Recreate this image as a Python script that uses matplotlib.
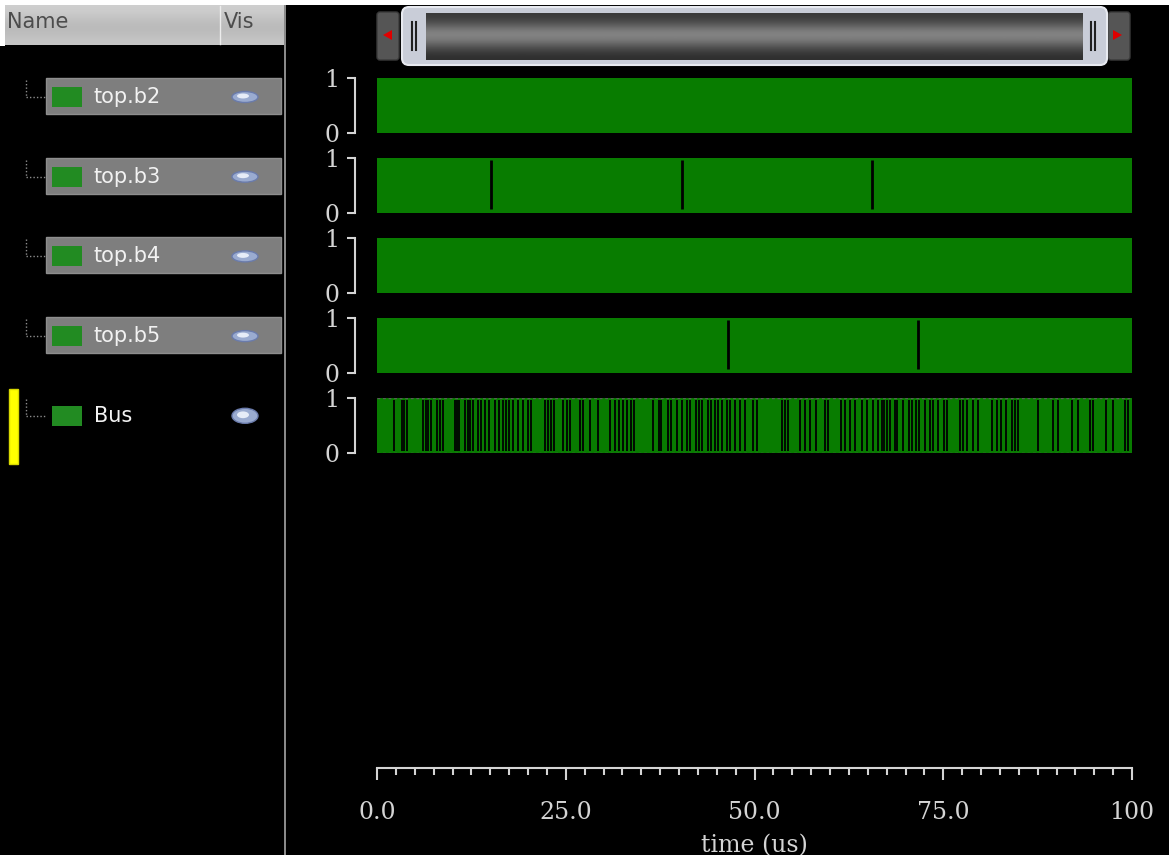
import numpy as np
import matplotlib
matplotlib.use('Agg')
from matplotlib import pyplot as plt
from matplotlib.patches import Rectangle, FancyBboxPatch, Ellipse, Polygon
from matplotlib.ticker import MultipleLocator

W, H = 1169, 855

# signals shown in the wave window
signal_names = ['top.b2', 'top.b3', 'top.b4', 'top.b5', 'Bus']
t_start, t_end = 0.0, 100.0

# times (us) where the dense green trace shows a visible black edge
b3_edges = [15.1, 40.4, 65.6]
b5_edges = [46.5, 71.7]
bus_edges = [2.2, 3.3, 3.6, 4.0, 6.1, 6.5, 6.8, 7.2, 7.9, 8.4, 8.7, 10.3, 10.6,
             10.9, 11.7, 12.0, 12.3, 12.7, 13.4, 13.8, 14.3, 14.8, 15.6, 16.1,
             16.7, 17.1, 17.5, 18.0, 18.7, 19.4, 20.0, 20.4, 22.3, 22.6, 23.1,
             23.4, 24.7, 25.1, 25.6, 26.9, 27.3, 28.2, 29.3, 30.9, 31.5, 32.0,
             32.6, 33.1, 33.6, 34.0, 36.6, 37.3, 37.6, 38.6, 39.0, 39.7, 40.4,
             41.0, 41.5, 42.3, 42.6, 43.1, 43.9, 44.3, 44.8, 45.2, 45.7, 46.3,
             46.8, 47.4, 48.1, 48.7, 49.8, 50.3, 53.6, 54.0, 54.5, 56.0, 56.7,
             57.3, 58.2, 59.3, 59.8, 61.5, 62.0, 62.6, 63.3, 64.2, 64.9, 65.7,
             66.4, 66.9, 67.1, 67.6, 67.9, 68.6, 68.9, 69.7, 70.5, 70.8, 71.4,
             71.8, 72.6, 73.2, 73.6, 74.3, 75.1, 75.5, 77.2, 77.6, 78.1, 79.0,
             79.6, 81.4, 82.1, 82.6, 83.3, 84.1, 84.5, 84.9, 87.6, 89.6, 90.2,
             92.0, 92.9, 94.4, 94.9, 96.6, 97.5, 99.1, 99.5]
signal_edges = [[], b3_edges, [], b5_edges, bus_edges]

level_ticks = [0, 1]
level_labels = ['0', '1']
time_ticks = [0, 25, 50, 75, 100]
time_labels = ['0.0', '25.0', '50.0', '75.0', '100']
time_minor_step = 2.5

WAVE_GREEN = '#087c00'
ICON_GREEN = '#228b22'
AXIS_GREY = '#d4d4d4'
PT = 72 / 100  # points per pixel at dpi 100


def px_axes(fig, x0, y0, w, h):
    # axes placed by pixel box measured from the top-left corner
    return fig.add_axes([x0 / W, 1 - (y0 + h) / H, w / W, h / H])


def gradient(ax, x0, x1, y0, y1, colors):
    vals = np.array([matplotlib.colors.to_rgb(c) for c in colors])
    return ax.imshow(vals[:, None, :], extent=[x0, x1, y1, y0],
                     aspect='auto', interpolation='bicubic', zorder=1)


fig = plt.figure(figsize=(W / 100, H / 100), dpi=100, facecolor='black')
bg = fig.add_axes([0, 0, 1, 1])
bg.set_xlim(0, W)
bg.set_ylim(H, 0)
bg.axis('off')
bg.set_facecolor('black')

# window frame
bg.add_patch(Rectangle((0, 0), W, 5, fc='white', ec='none', zorder=0))
bg.add_patch(Rectangle((0, 0), 5, 46, fc='white', ec='none', zorder=0))
bg.add_patch(Rectangle((284, 5), 2, H, fc='#8a8a8a', ec='none', zorder=2))

# name panel header
gradient(bg, 5, 284, 5, 45, ['#cfcfcf', '#c0c0c0', '#b8b8b8', '#c6c6c6'])
bg.plot([220, 220], [6, 44], color='#ececec', lw=1, zorder=3)
bg.text(7, 22, 'Name', color='#4c4c4c', fontsize=15, va='center',
        family='DejaVu Sans', zorder=4)
bg.text(224, 22, 'Vis', color='#4c4c4c', fontsize=15, va='center',
        family='DejaVu Sans', zorder=4)

# name panel rows
for i, name in enumerate(signal_names):
    cy = 97 + 79.7 * i
    bg.plot([26, 26], [cy - 17, cy], color='#8c8c8c', lw=1, ls=(0, (1, 1.5)))
    bg.plot([26, 46], [cy, cy], color='#8c8c8c', lw=1, ls=(0, (1, 1.5)))
    if name != 'Bus':
        bg.add_patch(Rectangle((46, cy - 19), 235, 36, fc='#7e7e7e',
                               ec='#8e8e8e', lw=1, zorder=1))
        eye_h = 11
    else:
        bg.add_patch(Rectangle((9, cy - 27), 9, 75, fc='#ffff00',
                               ec='#d8d800', lw=1, zorder=1))
        eye_h = 15
    bg.add_patch(Rectangle((52, cy - 10), 30, 20, fc=ICON_GREEN, ec='none',
                           zorder=2))
    bg.text(94, cy, name, color='#f2f2f2', fontsize=15, va='center',
            family='DejaVu Sans', zorder=3)
    bg.add_patch(Ellipse((245, cy), 26, eye_h, fc='#9aabd0', ec='#6a7bab',
                         lw=1, zorder=2))
    bg.add_patch(Ellipse((243, cy - 1), 12, eye_h * 0.45, fc='#e6ecf8',
                         ec='none', zorder=3))

# scroll bar
for x0 in (377, 1108):
    bg.add_patch(FancyBboxPatch((x0, 12), 22, 48,
                                boxstyle='round,pad=0,rounding_size=3',
                                fc='#555555', ec='#3a3a3a', lw=1, zorder=2))
bg.add_patch(Polygon([[383, 35], [392, 30], [392, 40]], fc='#e00000',
                     ec='none', zorder=3))
bg.add_patch(Polygon([[1122, 35], [1113, 30], [1113, 40]], fc='#e00000',
                     ec='none', zorder=3))
bg.add_patch(FancyBboxPatch((402, 7), 705, 58,
                            boxstyle='round,pad=0,rounding_size=7',
                            fc='#c9cdd8', ec='#e8eaf0', lw=1.5, zorder=3))
thumb = gradient(bg, 426, 1083, 13, 60, ['#3a3a3a', '#5a5a5a', '#8a8a8a',
                                         '#7a7a7a', '#4a4a4a', '#2e2e2e'])
thumb.set_zorder(4)
for gx in (412, 416, 1091, 1095):
    bg.plot([gx, gx], [22, 50], color='#202020', lw=1.5, zorder=5)

# waveforms
for i, name in enumerate(signal_names):
    ax = px_axes(fig, 377, 78 + 80 * i, 755, 55)
    ax.set_facecolor('black')
    ax.set_xlim(t_start, t_end)
    ax.set_ylim(0, 1)
    ax.fill_between([t_start, t_end], 0, 1, color=WAVE_GREEN, lw=0)
    if name == 'Bus':
        ax.vlines(signal_edges[i], 0.03, 0.97, colors='black', lw=1.3)
        ax.hlines([0.005, 0.995], t_start, t_end, colors='#5a5a5a', lw=1,
                  linestyles=(0, (2, 2)))
    else:
        ax.vlines(signal_edges[i], 0.08, 0.96, colors='black', lw=2)
    for side in ('top', 'right', 'bottom'):
        ax.spines[side].set_visible(False)
    ax.spines['left'].set_position(('outward', 22 * PT))
    ax.spines['left'].set_color(AXIS_GREY)
    ax.spines['left'].set_linewidth(1.5)
    ax.set_xticks([])
    ax.set_yticks(level_ticks)
    ax.set_yticklabels(level_labels, family='DejaVu Serif')
    ax.tick_params(axis='y', direction='out', length=8 * PT, width=1.5,
                   color=AXIS_GREY, labelcolor=AXIS_GREY, labelsize=17,
                   pad=8 * PT)

# time axis
ax_t = px_axes(fig, 377, 767, 755, 1)
ax_t.patch.set_alpha(0)
ax_t.set_xlim(t_start, t_end)
for side in ('top', 'right', 'left'):
    ax_t.spines[side].set_visible(False)
ax_t.spines['bottom'].set_color(AXIS_GREY)
ax_t.spines['bottom'].set_linewidth(1.5)
ax_t.set_yticks([])
ax_t.set_xticks(time_ticks)
ax_t.set_xticklabels(time_labels, family='DejaVu Serif')
ax_t.xaxis.set_minor_locator(MultipleLocator(time_minor_step))
ax_t.tick_params(axis='x', which='major', direction='out', length=12 * PT,
                 width=1.5, color=AXIS_GREY, labelcolor=AXIS_GREY,
                 labelsize=17, pad=21 * PT)
ax_t.tick_params(axis='x', which='minor', direction='out', length=7 * PT,
                 width=1.5, color=AXIS_GREY)
ax_t.set_xlabel('time (us)', color=AXIS_GREY, fontsize=17,
                family='DejaVu Serif', labelpad=7)

fig.savefig('out.png', dpi=100, facecolor='black')
